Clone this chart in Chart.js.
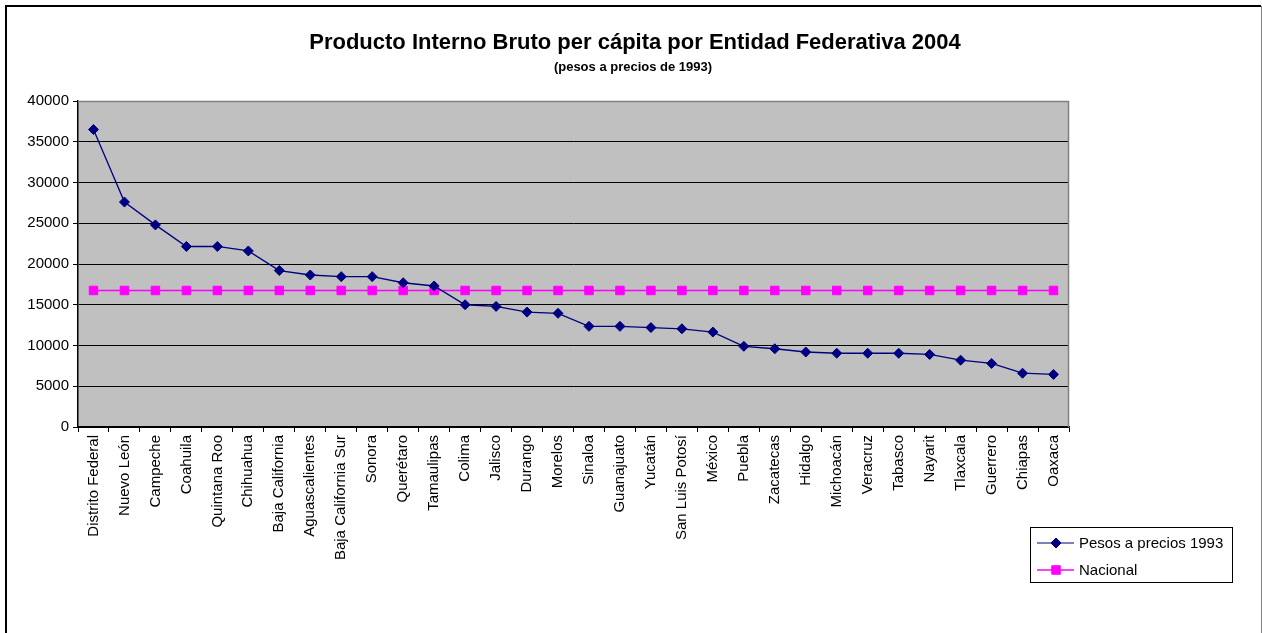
<!DOCTYPE html>
<html><head><meta charset="utf-8">
<script src="https://cdn.jsdelivr.net/npm/chart.js@4.4.0/dist/chart.umd.min.js"></script>
<style>html,body{margin:0;padding:0;background:#fff;}#wrap{width:1262px;height:633px;position:relative;}</style>
</head><body><div id="wrap"><canvas id="c" width="1262" height="633"></canvas></div>
<script>
const categories = ["Distrito Federal","Nuevo León","Campeche","Coahuila","Quintana Roo","Chihuahua","Baja California","Aguascalientes","Baja California Sur","Sonora","Querétaro","Tamaulipas","Colima","Jalisco","Durango","Morelos","Sinaloa","Guanajuato","Yucatán","San Luis Potosí","México","Puebla","Zacatecas","Hidalgo","Michoacán","Veracruz","Tabasco","Nayarit","Tlaxcala","Guerrero","Chiapas","Oaxaca"];
const pesos1993 = [36500,27600,24800,22150,22150,21600,19200,18650,18450,18450,17700,17300,15000,14800,14100,13950,12350,12350,12200,12050,11650,9900,9600,9200,9050,9050,9050,8900,8200,7800,6600,6450];
const nacional = [16750,16750,16750,16750,16750,16750,16750,16750,16750,16750,16750,16750,16750,16750,16750,16750,16750,16750,16750,16750,16750,16750,16750,16750,16750,16750,16750,16750,16750,16750,16750,16750];
const yTicks = [0,5000,10000,15000,20000,25000,30000,35000,40000];
const titleText = "Producto Interno Bruto per cápita por Entidad Federativa 2004";
const subtitleText = "(pesos a precios de 1993)";
const seriesNames = ["Pesos a precios 1993","Nacional"];

const FONT = "Arial, 'Liberation Sans', sans-serif";

const decor = {
  id: 'decor',
  beforeDraw(chart) {
    const ctx = chart.ctx, a = chart.chartArea;
    ctx.save();
    ctx.fillStyle = '#ffffff';
    ctx.fillRect(0,0,chart.width,chart.height);
    ctx.strokeStyle = '#000';
    ctx.lineWidth = 2;
    ctx.beginPath();
    ctx.moveTo(6, 640); ctx.lineTo(6, 6); ctx.lineTo(1261, 6);
    ctx.stroke();
    ctx.strokeStyle = '#808080';
    ctx.lineWidth = 1;
    ctx.beginPath();
    ctx.moveTo(1261.5, 6); ctx.lineTo(1261.5, 640);
    ctx.stroke();
    ctx.fillStyle = '#c0c0c0';
    ctx.fillRect(a.left, a.top, a.right - a.left, a.bottom - a.top);
    ctx.restore();
  },
  afterDraw(chart) {
    const ctx = chart.ctx, a = chart.chartArea;
    ctx.save();
    ctx.strokeStyle = '#808080';
    ctx.lineWidth = 1.5;
    ctx.beginPath();
    ctx.moveTo(a.left, a.top + 0.5); ctx.lineTo(a.right - 0.5, a.top + 0.5); ctx.lineTo(a.right - 0.5, a.bottom);
    ctx.stroke();
    ctx.fillStyle = '#000';
    ctx.textAlign = 'center';
    ctx.textBaseline = 'alphabetic';
    ctx.font = "bold 22px " + FONT;
    ctx.fillText(titleText, 635, 49);
    ctx.font = "bold 13px " + FONT;
    ctx.fillText(subtitleText, 633, 71);
    const lx = 1030, ly = 527, lw = 202, lh = 55;
    ctx.fillStyle = '#fff';
    ctx.fillRect(lx, ly, lw, lh);
    ctx.strokeStyle = '#000';
    ctx.lineWidth = 1;
    ctx.strokeRect(lx + 0.5, ly + 0.5, lw, lh);
    const items = [
      {name: seriesNames[0], color: '#000080', style: 'rectRot', r: 5, y: 543, lw: 1.2},
      {name: seriesNames[1], color: '#ff00ff', style: 'rect', r: 6, y: 570, lw: 1.5}
    ];
    ctx.font = "15px " + FONT;
    ctx.textAlign = 'left';
    ctx.textBaseline = 'middle';
    items.forEach(it => {
      ctx.strokeStyle = it.color;
      ctx.lineWidth = it.lw;
      ctx.beginPath(); ctx.moveTo(1037, it.y); ctx.lineTo(1074, it.y); ctx.stroke();
      ctx.fillStyle = it.color;
      ctx.lineWidth = 1;
      Chart.helpers.drawPoint(ctx, {pointStyle: it.style, radius: it.r, borderWidth: 1}, 1056, it.y);
      ctx.fillStyle = '#000';
      ctx.fillText(it.name, 1079, it.y + 1);
    });
    ctx.restore();
  }
};

new Chart(document.getElementById('c'), {
  type: 'line',
  data: {
    labels: categories,
    datasets: [
      {label: seriesNames[0], data: pesos1993, borderColor: '#000080', backgroundColor: '#000080', borderWidth: 1.3, pointStyle: 'rectRot', pointRadius: 5, pointBorderWidth: 1, pointBorderColor: '#000080', tension: 0, order: 0},
      {label: seriesNames[1], data: nacional, borderColor: '#ff00ff', backgroundColor: '#ff00ff', borderWidth: 1.5, pointStyle: 'rect', pointRadius: 6, pointBorderWidth: 1, pointBorderColor: '#ff00ff', tension: 0, order: 1}
    ]
  },
  options: {
    responsive: false,
    animation: false,
    events: [],
    layout: {padding: {left: 14, top: 101, right: 193, bottom: 56}},
    plugins: {legend: {display: false}, title: {display: false}, tooltip: {enabled: false}},
    scales: {
      x: {
        offset: true,
        grid: {offset: true, drawOnChartArea: false, drawTicks: true, tickLength: 5, color: '#000', lineWidth: 1},
        border: {display: true, color: '#000', width: 1.5},
        ticks: {autoSkip: false, maxRotation: 90, minRotation: 90, color: '#000', font: {family: FONT, size: 15}, padding: 3},
        afterFit(s) { s.height = 150; }
      },
      y: {
        min: 0, max: 40000,
        afterBuildTicks(s) { s.ticks = yTicks.map(v => ({value: v})); },
        grid: {color: '#000', lineWidth: 1, drawTicks: true, tickLength: 5},
        border: {display: true, color: '#000', width: 1.5},
        ticks: {color: '#000', font: {family: FONT, size: 15}, padding: 4, callback: v => String(v)},
        afterFit(s) { s.width = 64; }
      }
    }
  },
  plugins: [decor]
});
</script>
</body></html>
